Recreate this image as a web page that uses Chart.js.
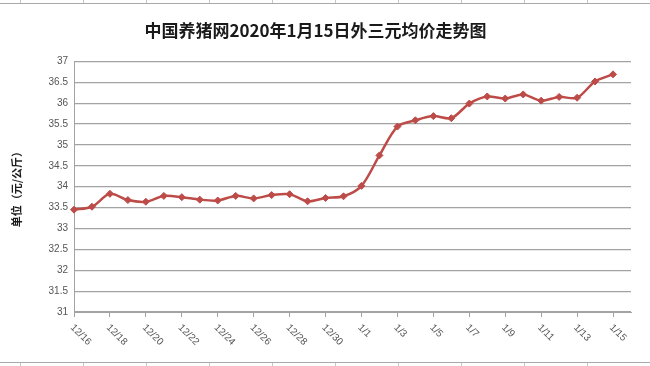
<!DOCTYPE html>
<html>
<head>
<meta charset="utf-8">
<script src="https://cdn.jsdelivr.net/npm/chart.js@4"></script>
<style>
  body { margin: 0; background: #fff; }
  #wrap { position: relative; width: 650px; height: 366px; }
  .sheet { position: absolute; left: 0; width: 650px; height: 4px;
    background: repeating-linear-gradient(90deg, transparent 0, transparent 20px, #c8c8c8 20px, #c8c8c8 21px, transparent 21px, transparent 63px);
  }
  .sheet.top { top: 0; height: 3px; border-bottom: 1px solid #a8a8a8; }
  .sheet.bottom { top: 362px; border-top: 1px solid #a8a8a8; }
</style>
</head>
<body>
<div id="wrap">
  <div class="sheet top"></div>
  <canvas id="myChart"></canvas>
  <div class="sheet bottom"></div>
</div>
<script>
// dates shown on the category axis
var dates = ['12/16', '12/17', '12/18', '12/19', '12/20', '12/21', '12/22', '12/23',
  '12/24', '12/25', '12/26', '12/27', '12/28', '12/29', '12/30', '12/31',
  '1/1', '1/2', '1/3', '1/4', '1/5', '1/6', '1/7', '1/8',
  '1/9', '1/10', '1/11', '1/12', '1/13', '1/14', '1/15'];

// 外三元均价 (元/公斤)
var prices = [33.45, 33.52, 33.83, 33.68, 33.64, 33.78, 33.75, 33.69,
  33.67, 33.78, 33.72, 33.80, 33.82, 33.65, 33.73, 33.77,
  34.02, 34.75, 35.44, 35.59, 35.69, 35.64, 35.99, 36.16,
  36.11, 36.21, 36.06, 36.15, 36.13, 36.52, 36.69];

var yMin = 31, yMax = 37, yStep = 0.5;

var gridGray = '#a3a3a3';
var lineRed = '#bd4b48';

// excel leaves one empty slot after the last date
var axisLabels = dates.concat(['']);

// draw the x labels turned clockwise, starting at the tick
var slantLabels = {
  id: 'slantLabels',
  afterDraw: function(chart) {
    var c = chart.ctx;
    var xs = chart.scales.x;
    c.save();
    c.font = '10px "Liberation Sans", Arial, sans-serif';
    c.fillStyle = '#555';
    c.textAlign = 'left';
    c.textBaseline = 'middle';
    for (var i = 0; i < dates.length; i += 2) {
      var px = xs.getPixelForValue(i);
      c.save();
      c.translate(px - 2, xs.top + 14);
      c.rotate(Math.PI / 4);
      c.fillText(dates[i], 0, 0);
      c.restore();
    }
    c.restore();
  }
};

var ctx = document.getElementById('myChart').getContext('2d');
var chart = new Chart(ctx, {
    type: 'line',
    data: {
        labels: axisLabels,
        datasets: [{
            label: '外三元均价',
            data: prices,
            borderColor: lineRed,
            backgroundColor: lineRed,
            borderWidth: 2.5,
            pointStyle: 'rectRot',
            pointRadius: 3.5,
            pointBorderWidth: 1,
            tension: 0.3
        }]
    },
    options: {
        responsive: true,
        maintainAspectRatio: false,
        animation: false,
        layout: { padding: { left: 0, right: 19, top: 0, bottom: 0 } },
        plugins: {
            legend: { display: false },
            tooltip: { enabled: false },
            title: {
                display: true,
                text: '中国养猪网2020年1月15日外三元均价走势图',
                color: '#1a1a1a',
                font: { family: '"Noto Sans CJK SC", sans-serif', size: 17, weight: 'bold' },
                padding: { top: 20, bottom: 21 }
            }
        },
        scales: {
            x: {
                offset: false,
                ticks: { display: false },
                grid: {
                    drawOnChartArea: false,
                    drawTicks: true,
                    tickLength: 5,
                    tickWidth: 1,
                    tickColor: function(c) {
                        return (c.index % 2 === 0 && c.index < dates.length) ? gridGray : 'rgba(0,0,0,0)';
                    }
                },
                border: { color: gridGray, width: 1 },
                afterFit: function(s) { s.height = 54; }
            },
            y: {
                min: yMin,
                max: yMax,
                ticks: {
                    stepSize: yStep,
                    color: '#555',
                    padding: 6,
                    font: { family: '"Liberation Sans", Arial, sans-serif', size: 10 },
                    callback: function(v) { return String(v); }
                },
                grid: { color: gridGray, lineWidth: 1.2, drawTicks: false },
                border: { color: gridGray, width: 1 },
                title: {
                    display: true,
                    text: '单位（元/公斤）',
                    color: '#1a1a1a',
                    font: { family: '"Noto Sans CJK SC", sans-serif', size: 11, weight: 'bold' },
                    padding: { top: 10, bottom: 0 }
                },
                afterFit: function(s) { s.width = 74; }
            }
        }
    },
    plugins: [slantLabels]
});
</script>
</body>
</html>
